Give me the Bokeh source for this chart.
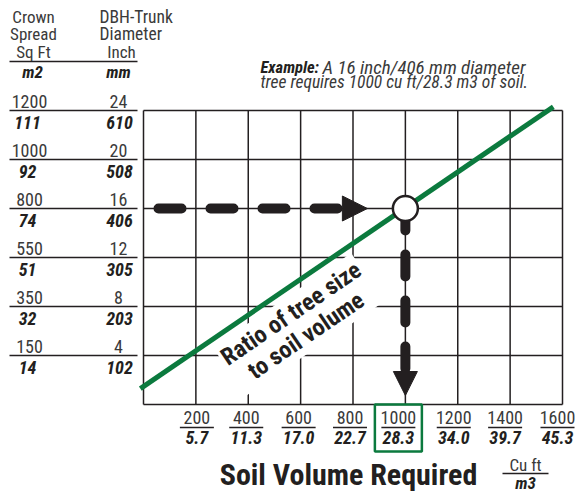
from bokeh.plotting import figure
from bokeh.models import Range1d, Arrow, NormalHead
from bokeh.core.properties import value
from bokeh.embed import file_html
from bokeh.resources import INLINE

# ---------------- data ----------------
dbh_inch = [24, 20, 16, 12, 8, 4]
dbh_mm = ["610", "508", "406", "305", "203", "102"]
crown_sqft = ["1200", "1000", "800", "550", "350", "150"]
crown_m2 = ["111", "92", "74", "51", "32", "14"]
soil_cuft = [200, 400, 600, 800, 1000, 1200, 1400, 1600]
soil_m3 = ["5.7", "11.3", "17.0", "22.7", "28.3", "34.0", "39.7", "45.3"]
ratio_cuft = [-12, 1565]
ratio_inch = [1.3, 24.3]
example_cuft = 1000
example_inch = 16

# ---------------- layout helpers (reference pixel geometry) ----------------
W, H = 576, 493
PL, PR, PT, PB = 143, 562, 110, 404
X_MAX, Y_MAX = 1600, 24
UX = X_MAX / (PR - PL)
UY = Y_MAX / (PB - PT)
def X(px): return (px - PL) * UX
def Y(py): return (PB - py) * UY

DARK = "#231f20"
REG = "#3a3a3a"
GREEN = "#0b7a3e"
FONT = value("'Liberation Sans Narrow', 'Roboto Condensed', Roboto, sans-serif")

p = figure(width=W, height=H, x_range=Range1d(X(0), X(W)),
           y_range=Range1d(Y(H), Y(0)), output_backend="svg",
           toolbar_location=None, min_border=0, x_axis_type=None,
           y_axis_type=None, outline_line_color=None,
           background_fill_color="white", border_fill_color="white")
p.grid.visible = False

# grid
xs = [0] + soil_cuft
ys = [0] + dbh_inch
p.segment(x0=xs, y0=[0] * len(xs), x1=xs, y1=[Y_MAX] * len(xs),
          line_color=DARK, line_width=1.5)
p.segment(x0=[0] * len(ys), y0=ys, x1=[X_MAX] * len(ys), y1=ys,
          line_color=DARK, line_width=1.5)

# left label separators (header line one step above top)
step = dbh_inch[0] - dbh_inch[1]
head_y = dbh_inch[0] + step
sep_y = [head_y] + dbh_inch
p.segment(x0=[X(9)] * len(sep_y), y0=sep_y, x1=[X(137)] * len(sep_y), y1=sep_y,
          line_color=DARK, line_width=1.5)

def txt(x, y, t, size, color=REG, style="normal", align="center", **kw):
    return p.text(x=x, y=y, text=t, text_font=FONT, text_font_size=size,
                  text_font_style=style, text_color=color, text_align=align,
                  text_baseline="middle", **kw)

n = len(dbh_inch)
txt([X(29)] * n, [v + 9 * UY for v in dbh_inch], crown_sqft, "18px")
txt([X(27)] * n, [v - 11.5 * UY for v in dbh_inch], crown_m2, "18px", DARK, "bold italic")
txt([X(118)] * n, [v + 9 * UY for v in dbh_inch], [str(v) for v in dbh_inch], "18px")
txt([X(119)] * n, [v - 11.5 * UY for v in dbh_inch], dbh_mm, "18px", DARK, "bold italic")

# headers
txt([X(33)] * 3, [head_y + 45 * UY, head_y + 27.5 * UY, head_y + 9.5 * UY],
    ["Crown", "Spread", "Sq Ft"], "17px")
txt([X(32)], [head_y - 10.5 * UY], ["m2"], "17px", DARK, "bold italic")
txt([X(99)] * 2, [head_y + 45 * UY, head_y + 27.5 * UY],
    ["DBH-Trunk", "Diameter"], "17.5px", align="left")
txt([X(121)], [head_y + 9.5 * UY], ["Inch"], "17px")
txt([X(118)], [head_y - 10.5 * UY], ["mm"], "17px", DARK, "bold italic")

# bottom labels
shifts = [1, -2, -2, -3, -7, -4, -5, -5]
bx = [c + s * UX for c, s in zip(soil_cuft, shifts)]
m = len(soil_cuft)
txt(bx, [Y(416.5)] * m, [str(v) for v in soil_cuft], "18px")
txt(bx, [Y(437)] * m, soil_m3, "18px", DARK, "bold italic")
p.segment(x0=[b - 17 * UX for b in bx], y0=[Y(427)] * m,
          x1=[b + 17 * UX for b in bx], y1=[Y(427)] * m,
          line_color=DARK, line_width=1.5)

# highlight box around example label
ei = soil_cuft.index(example_cuft)
bc = bx[ei]
p.quad(left=[bc - 23.5 * UX], right=[bc + 23.5 * UX], top=[0], bottom=[-47 * UY],
       fill_color=None, line_color=GREEN, line_width=2.5)

# ratio line
p.line(ratio_cuft, ratio_inch, line_color=GREEN, line_width=5)

# example dashed arrows
h_tip = example_cuft - 38 * UX
h_base = h_tip - 24 * UX
p.line([15 * UX, h_base], [example_inch, example_inch], line_color=DARK,
       line_width=10, line_dash="23 29", line_cap="round")
p.add_layout(Arrow(end=NormalHead(size=25, fill_color=DARK, line_color=DARK, line_width=1),
                   x_start=h_base, y_start=example_inch, x_end=h_tip, y_end=example_inch,
                   line_alpha=0))
v_tip = 9 * UY
v_base = v_tip + 25 * UY
p.line([example_cuft, example_cuft], [example_inch, v_base], line_color=DARK,
       line_width=10, line_dash="22 24", line_cap="round")
p.add_layout(Arrow(end=NormalHead(size=24, fill_color=DARK, line_color=DARK, line_width=1),
                   x_start=example_cuft, y_start=v_base, x_end=example_cuft, y_end=v_tip,
                   line_alpha=0))
p.scatter([example_cuft], [example_inch], size=25, fill_color="white",
          line_color=DARK, line_width=2.5)

# rotated label
p.text(x=[X(298)], y=[Y(324)], text=["Ratio of tree size\nto soil volume"],
       angle=34.3, angle_units="deg", text_font=FONT, text_font_size="24px",
       text_font_style="bold", text_color=DARK, text_align="center",
       text_baseline="middle", text_line_height=0.95,
       background_fill_color="white", padding=2)

# example note
txt([X(260)], [Y(66.5)], ["Example:"], "16.5px", DARK, "bold italic", align="left")
txt([X(322)], [Y(66.5)], ["A 16 inch/406 mm diameter"], "19px", REG, "italic", align="left")
txt([X(260)], [Y(81.5)], ["tree requires 1000 cu ft/28.3 m3 of soil."], "17.5px", REG,
    "italic", align="left")

# title
txt([X(348)], [Y(474)], ["Soil Volume Required"], "30px", DARK, "bold")
txt([X(525)], [Y(464)], ["Cu ft"], "17px")
p.segment(x0=[X(502)], y0=[Y(473)], x1=[X(548)], y1=[Y(473)], line_color=DARK, line_width=1.5)
txt([X(525)], [Y(482.5)], ["m3"], "17px", DARK, "bold italic")

open("out.html", "w").write(file_html(p, INLINE))
